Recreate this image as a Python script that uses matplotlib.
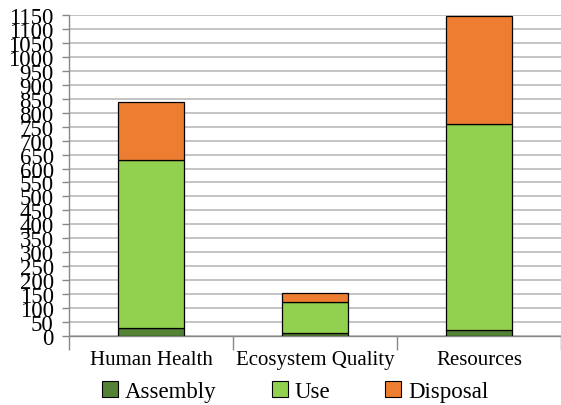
import numpy as np
import matplotlib
matplotlib.use("Agg")
import matplotlib.pyplot as plt
from matplotlib.patches import Patch

plt.rcParams['font.family'] = 'serif'
plt.rcParams['font.serif'] = ['Liberation Serif', 'Times New Roman', 'DejaVu Serif']

# impact categories and stacked life-cycle stage contributions
categories = ['Human Health', 'Ecosystem Quality', 'Resources']
assembly = [30, 10, 23]
use = [600, 111, 737]
disposal = [208, 32, 385]
stage_names = ['Assembly', 'Use', 'Disposal']
stage_colors = ['#548235', '#92D050', '#ED7D31']

fig = plt.figure(figsize=(5.61, 4.06), dpi=100)
ax = fig.add_axes([0.123, 0.170, 0.877, 0.7906])

x = np.arange(len(categories))
bottom = np.zeros(len(categories))
for vals, color in zip([assembly, use, disposal], stage_colors):
    ax.bar(x, vals, width=0.4, bottom=bottom, color=color,
           edgecolor='black', linewidth=0.9, zorder=3)
    bottom += np.array(vals)

ax.set_xlim(-0.5, len(categories) - 0.5)
ax.set_ylim(0, 1150)
ax.set_yticks(np.arange(0, 1151, 50))
ax.yaxis.grid(True, color='#BFBFBF', linewidth=1.3, zorder=0)
ax.tick_params(axis='y', labelsize=16.5, length=5, width=1, color='#888888', pad=6)

# category labels between boundary ticks
ax.set_xticks(x)
ax.set_xticklabels(categories, fontsize=15)
ax.tick_params(axis='x', length=0, pad=10)
ax.set_xticks(np.arange(-0.5, len(categories), 1.0), minor=True)
ax.tick_params(axis='x', which='minor', length=10, width=1, color='#888888')

for side in ['top', 'right']:
    ax.spines[side].set_visible(False)
for side in ['left', 'bottom']:
    ax.spines[side].set_color('#888888')
    ax.spines[side].set_linewidth(1)

handles = [Patch(facecolor=c, edgecolor='black', linewidth=0.8) for c in stage_colors]
fig.legend(handles, stage_names, loc='center', bbox_to_anchor=(0.526, 0.033),
           ncol=3, frameon=False, fontsize=16.5, handlelength=0.7, handleheight=0.7,
           handletextpad=0.3, columnspacing=2.4, borderaxespad=0)

fig.savefig('out.png', dpi=100)
